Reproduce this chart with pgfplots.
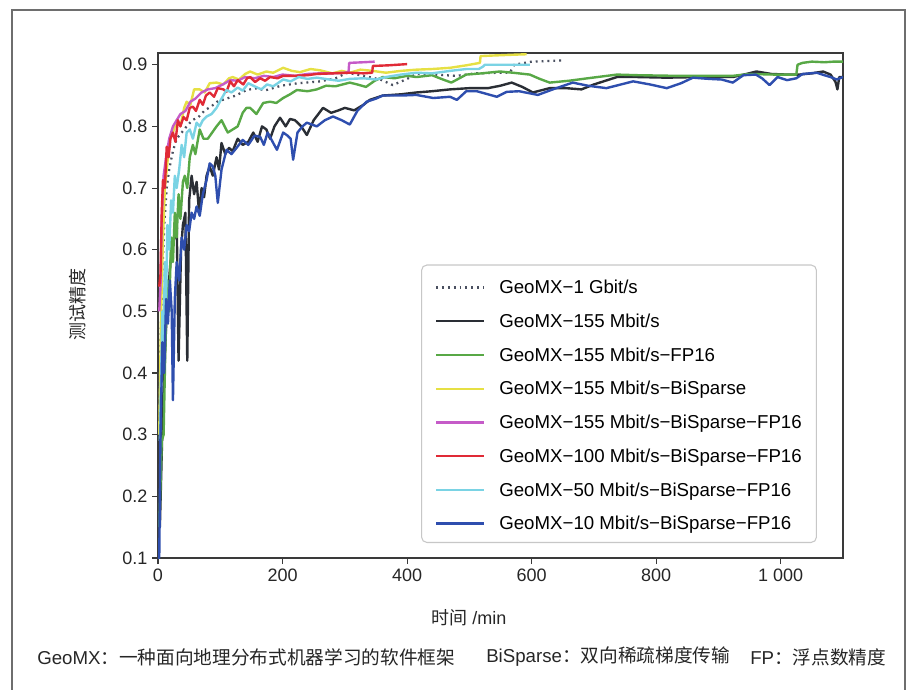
\documentclass[border=0pt]{standalone}
\usepackage{fontspec}
\setmainfont{Liberation Sans}
\newfontfamily\cjk{Noto Sans CJK SC}
\usepackage{pgfplots}
\pgfplotsset{compat=1.18}

\definecolor{framegray}{HTML}{6E6E6E}
\definecolor{axisgray}{HTML}{3A3A3A}
\definecolor{cdot}{HTML}{4A5060}
\definecolor{cblack}{HTML}{2A2E35}
\definecolor{cgreen}{HTML}{58A846}
\definecolor{cyellow}{HTML}{E6E044}
\definecolor{cmagenta}{HTML}{C55BC8}
\definecolor{cred}{HTML}{E02A36}
\definecolor{ccyan}{HTML}{7AD3E4}
\definecolor{cblue}{HTML}{2E4EAE}

\begin{document}
\begin{tikzpicture}[x=0.75pt,y=0.75pt]
\path[use as bounding box] (0,0) rectangle (912,689);
% outer frame (no bottom edge in the reference)
\draw[framegray, line width=1.1pt] (12,-3) -- (12,679) -- (905,679) -- (905,-3);

\begin{axis}[
    at={(118.5pt,98.25pt)}, anchor=south west,
    scale only axis,
    width=513.75pt, height=378.75pt,
    xmin=0, xmax=1100,
    ymin=0.1, ymax=0.919,
    xtick={0,200,400,600,800,1000},
    ytick={0.1,0.2,0.3,0.4,0.5,0.6,0.7,0.8,0.9},
    tick align=outside, tick pos=left,
    major tick length=4.5pt,
    axis line style={axisgray, line width=0.9pt},
    tick style={axisgray, line width=0.8pt},
    ticklabel style={font=\fontsize{13.5}{16}\selectfont, text=black!85},
    /pgf/number format/assume math mode=true,
    xticklabel style={/pgf/number format/1000 sep={\ }},
    yticklabel style={/pgf/number format/.cd, fixed, precision=1, fixed zerofill},
    xlabel={{\cjk 时间} /min},
    ylabel={\cjk 测试精度},
    label style={font=\fontsize{13.5}{16}\selectfont, text=black!85},
    xlabel style={at={(axis description cs:0.454,-0.119)}, anchor=center},
    ylabel style={at={(axis description cs:-0.118,0.501)}, anchor=center},
    legend cell align=left,
    legend image code/.code={\draw[#1] (0pt,-1.4pt) -- (36pt,-1.4pt);},
    legend style={
        at={(0.962,0.0297)}, anchor=south east,
        draw=black!22, line width=0.8pt, rounded corners=4pt,
        font=\fontsize{14}{16}\selectfont,
        inner xsep=10pt, inner ysep=8pt,
        nodes={inner sep=1pt, text height=12.5pt, text depth=0.5pt},
        row sep=10.3pt, column sep=9.5pt,
    },
    every axis plot/.append style={line width=1.8pt, line join=round},
]

\addplot[cdot, line width=1.7pt, dash pattern=on 1.4pt off 3pt] coordinates {
(1,0.30)(4,0.45)(7,0.56)(10,0.64)(14,0.70)(18,0.73)(24,0.76)(30,0.78)(38,0.79)
(46,0.80)(55,0.81)(65,0.815)(75,0.826)(85,0.832)(95,0.84)(110,0.845)(125,0.85)
(142,0.859)(160,0.862)(171,0.858)(198,0.866)(225,0.87)(260,0.873)(285,0.878)
(304,0.887)(330,0.882)(357,0.876)(377,0.867)(398,0.876)(415,0.885)(440,0.884)
(480,0.882)(510,0.886)(549,0.887)(565,0.887)(572,0.90)(600,0.905)(625,0.906)(650,0.907)
};
\addlegendentry{GeoMX−1 Gbit/s}

\addplot[cblack] coordinates {
(3,0.15)(8,0.35)(14,0.50)(20,0.58)(26,0.62)(30,0.65)(33,0.42)(37,0.60)(40,0.64)
(44,0.66)(47,0.42)(50,0.68)(54,0.72)(58,0.69)(62,0.71)(66,0.66)(70,0.70)(74,0.685)
(78,0.72)(83,0.735)(88,0.72)(94,0.75)(98,0.73)(102,0.773)(108,0.755)(114,0.765)
(120,0.76)(128,0.78)(136,0.77)(145,0.775)(153,0.79)(160,0.775)(167,0.80)(174,0.795)
(180,0.78)(187,0.80)(196,0.814)(205,0.80)(212,0.812)(220,0.81)(230,0.80)(239,0.786)
(250,0.81)(265,0.83)(278,0.822)(290,0.826)(300,0.83)(315,0.826)(330,0.835)(340,0.843)
(361,0.85)(390,0.852)(415,0.855)(440,0.857)(469,0.86)(500,0.862)(530,0.862)(550,0.866)
(568,0.871)(585,0.864)(602,0.855)(629,0.862)(655,0.862)(680,0.86)(700,0.868)(737,0.88)
(770,0.88)(817,0.879)(870,0.88)(923,0.88)(945,0.885)(961,0.889)(985,0.885)(1010,0.884)
(1030,0.884)(1050,0.886)(1068,0.889)(1080,0.884)(1088,0.872)(1091,0.86)(1094,0.88)(1100,0.88)
};
\addlegendentry{GeoMX−155 Mbit/s}

\addplot[cgreen] coordinates {
(2,0.15)(6,0.29)(9,0.30)(12,0.45)(15,0.55)(18,0.50)(21,0.62)(24,0.58)(27,0.66)
(30,0.62)(33,0.69)(36,0.65)(40,0.71)(43,0.72)(47,0.70)(51,0.75)(56,0.77)(60,0.755)
(67,0.795)(73,0.78)(80,0.78)(87,0.79)(94,0.80)(102,0.81)(107,0.80)(112,0.79)(120,0.795)
(128,0.80)(136,0.822)(142,0.83)(148,0.83)(158,0.82)(169,0.838)(180,0.84)(190,0.838)
(201,0.846)(212,0.852)(223,0.859)(240,0.857)(255,0.86)(270,0.866)(285,0.865)(308,0.871)
(320,0.868)(334,0.864)(348,0.874)(361,0.88)(380,0.878)(400,0.882)(415,0.88)(440,0.883)
(455,0.877)(471,0.871)(484,0.878)(495,0.884)(520,0.886)(549,0.889)(570,0.887)(597,0.884)
(613,0.877)(629,0.871)(660,0.874)(690,0.878)(737,0.884)(770,0.883)(830,0.882)(880,0.882)
(923,0.882)(950,0.885)(990,0.884)(1025,0.884)(1027,0.90)(1035,0.903)(1050,0.905)
(1070,0.904)(1085,0.905)(1100,0.905)
};
\addlegendentry{GeoMX−155 Mbit/s−FP16}

\addplot[cyellow] coordinates {
(2,0.30)(5,0.50)(8,0.62)(11,0.70)(15,0.74)(19,0.78)(24,0.79)(30,0.81)(36,0.80)
(42,0.83)(46,0.84)(52,0.835)(58,0.86)(67,0.86)(75,0.855)(83,0.87)(94,0.871)(105,0.868)
(114,0.878)(120,0.88)(130,0.876)(140,0.885)(148,0.889)(160,0.884)(174,0.889)(185,0.887)
(201,0.895)(215,0.89)(228,0.888)(245,0.893)(260,0.891)(280,0.886)(295,0.89)(308,0.887)
(325,0.892)(345,0.89)(366,0.887)(390,0.89)(415,0.892)(440,0.893)(469,0.895)(495,0.899)
(517,0.903)(518,0.914)(540,0.915)(565,0.916)(592,0.917)
};
\addlegendentry{GeoMX−155 Mbit/s−BiSparse}

\addplot[cmagenta] coordinates {
(2,0.50)(4,0.54)(6,0.65)(9,0.72)(13,0.75)(18,0.78)(24,0.80)(30,0.81)(36,0.82)
(44,0.825)(52,0.84)(60,0.845)(70,0.855)(80,0.86)(92,0.862)(104,0.868)(116,0.875)
(128,0.874)(140,0.88)(155,0.878)(170,0.882)(185,0.88)(200,0.884)(220,0.882)(240,0.885)
(260,0.886)(280,0.886)(300,0.887)(306,0.888)(307,0.903)(330,0.904)(348,0.905)
};
\addlegendentry{GeoMX−155 Mbit/s−BiSparse−FP16}

\addplot[cred] coordinates {
(2,0.54)(4,0.56)(6,0.66)(8,0.713)(11,0.70)(14,0.767)(17,0.75)(20,0.78)(24,0.79)
(28,0.775)(32,0.81)(36,0.80)(41,0.815)(46,0.81)(51,0.83)(56,0.832)(61,0.825)(67,0.843)
(72,0.835)(77,0.85)(83,0.855)(90,0.848)(96,0.862)(105,0.86)(110,0.856)(116,0.873)
(122,0.865)(128,0.875)(137,0.868)(143,0.878)(148,0.88)(156,0.872)(164,0.878)(172,0.874)
(180,0.88)(192,0.878)(201,0.882)(220,0.882)(240,0.883)(255,0.885)(280,0.886)(308,0.887)
(330,0.886)(344,0.887)(345,0.898)(370,0.899)(400,0.901)
};
\addlegendentry{GeoMX−100 Mbit/s−BiSparse−FP16}

\addplot[ccyan] coordinates {
(3,0.29)(5,0.40)(7,0.50)(9,0.45)(11,0.58)(13,0.52)(15,0.64)(18,0.60)(21,0.68)
(24,0.66)(27,0.72)(30,0.70)(34,0.73)(38,0.77)(42,0.75)(46,0.79)(51,0.795)(56,0.78)
(62,0.806)(67,0.80)(72,0.81)(78,0.816)(86,0.82)(94,0.83)(102,0.845)(110,0.859)
(118,0.855)(128,0.863)(136,0.858)(145,0.87)(155,0.865)(166,0.86)(175,0.868)(185,0.865)
(201,0.876)(213,0.873)(226,0.88)(240,0.877)(255,0.879)(275,0.876)(290,0.874)(308,0.877)
(330,0.878)(350,0.876)(366,0.88)(390,0.884)(415,0.887)(440,0.886)(469,0.89)(495,0.893)
(515,0.893)(522,0.897)(525,0.90)(560,0.90)(597,0.90)
};
\addlegendentry{GeoMX−50 Mbit/s−BiSparse−FP16}

\addplot[cblue] coordinates {
(0,0.10)(2,0.10)(4,0.30)(7,0.45)(10,0.40)(13,0.52)(16,0.48)(19,0.55)(22,0.50)
(24,0.356)(27,0.52)(30,0.58)(34,0.55)(38,0.62)(42,0.60)(46,0.64)(50,0.63)(54,0.66)
(58,0.65)(62,0.67)(67,0.655)(72,0.69)(78,0.713)(83,0.74)(88,0.735)(92,0.72)(96,0.676)
(102,0.73)(110,0.762)(118,0.755)(126,0.765)(136,0.778)(145,0.77)(155,0.785)(164,0.783)
(170,0.77)(176,0.79)(184,0.775)(191,0.762)(201,0.79)(208,0.785)(213,0.78)(217,0.746)
(224,0.79)(232,0.80)(239,0.806)(255,0.80)(268,0.81)(281,0.816)(295,0.81)(308,0.803)
(320,0.825)(335,0.84)(350,0.845)(361,0.85)(390,0.85)(415,0.851)(442,0.846)(469,0.848)
(480,0.843)(495,0.857)(512,0.857)(530,0.852)(544,0.848)(560,0.856)(580,0.857)(610,0.851)
(634,0.86)(666,0.871)(690,0.866)(720,0.862)(763,0.873)(790,0.868)(817,0.862)(840,0.87)
(859,0.879)(885,0.877)(905,0.876)(923,0.871)(940,0.883)(960,0.884)(970,0.878)(982,0.867)
(995,0.88)(1010,0.875)(1025,0.878)(1035,0.885)(1058,0.887)(1070,0.883)(1080,0.88)
(1090,0.876)(1100,0.88)
};
\addlegendentry{GeoMX−10 Mbit/s−BiSparse−FP16}
\end{axis}

% caption line below the chart
\begin{scope}[every node/.style={anchor=west, inner sep=0pt, font=\fontsize{14}{16}\selectfont, text=black!85}]
\node at (37,32) {GeoMX{\cjk ：一种面向地理分布式机器学习的软件框架}};
\node at (486,32) {BiSparse{\cjk ：双向稀疏梯度传输}};
\node at (750,32) {FP{\cjk ：浮点数精度}};
\end{scope}
\end{tikzpicture}
\end{document}
